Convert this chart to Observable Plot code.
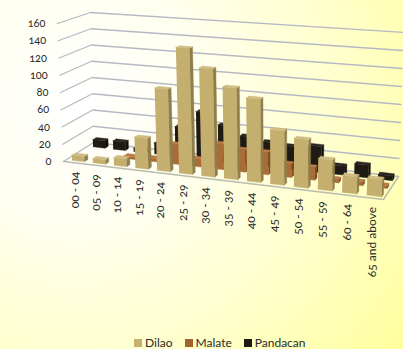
<!DOCTYPE html>
<html>
<head>
<meta charset="utf-8">
<script src="https://cdn.jsdelivr.net/npm/d3@7"></script>
<script src="https://cdn.jsdelivr.net/npm/@observablehq/plot@0.6"></script>
<style>
  html, body { margin: 0; padding: 0; }
  body {
    width: 403px; height: 349px; overflow: hidden; position: relative;
    background: radial-gradient(circle 410px at 75px 100px, #ffffff 0%, #fffff0 30%, #ffffc8 68%, #ffff9e 100%);
    font-family: Lato, "Open Sans", sans-serif; color: #2a2a2a;
  }
  #chart svg { display: block; font-variant-numeric: oldstyle-nums; }
  #legend {
    position: absolute; left: 134px; top: 336px; height: 13px;
    display: flex; align-items: center; font-size: 12px; line-height: 13px;
  }
  #legend span.key { display: inline-block; width: 8px; height: 8px; margin-right: 3px; }
  #legend span.item { display: inline-flex; align-items: center; margin-right: 12px; }
</style>
</head>
<body>
<div id="chart"></div>
<div id="legend"></div>
<script>
// Population by age bracket for three districts of Manila
const ageGroups = ["00 - 04", "05 - 09", "10 - 14", "15 - 19", "20 - 24", "25 - 29", "30 - 34",
  "35 - 39", "40 - 44", "45 - 49", "50 - 54", "55 - 59", "60 - 64", "65 and above"];
const dilao    = [6, 5, 9, 35, 93, 141, 120, 101, 91, 59, 52, 33, 18, 18];
const malate   = [0, 0, 3, 4, 23, 9, 29, 25, 25, 15, 14, 4, 4, 3];
const pandacan = [9, 10, 4, 13, 35, 55, 42, 32, 28, 26, 29, 10, 14, 5];
const yTicks   = [0, 20, 40, 60, 80, 100, 120, 140, 160];
const yMax = 160;

// Shades per series: front face, right face, top face
const series = [
  {name: "Pandacan", values: pandacan, row: 2, legend: "#1f1b14", shades: ["#1f1b14", "#12100b", "#2b2720"]},
  {name: "Malate",   values: malate,   row: 1, legend: "#a0622f", shades: ["#ab6b36", "#7e4c22", "#b97c46"]},
  {name: "Dilao",    values: dilao,    row: 0, legend: "#c4b070", shades: ["#c5af6e", "#8f7e4a", "#cfbc80"]}
];

// Camera: corners of the floor and of the ceiling of the chart box,
// ordered front-left, front-right, back-right, back-left.
const floorQuad = [[63, 161], [383, 199], [398, 176], [93, 142]];
const topQuad   = [[57, 23], [389, 46], [403, 32], [90, 12]];

// Perspective map of the unit square on a quadrilateral
function squareToQuad(q) {
  const [[x0, y0], [x1, y1], [x2, y2], [x3, y3]] = q;
  const dx1 = x1 - x2, dx2 = x3 - x2, sx = x0 - x1 + x2 - x3;
  const dy1 = y1 - y2, dy2 = y3 - y2, sy = y0 - y1 + y2 - y3;
  const det = dx1 * dy2 - dx2 * dy1;
  const g = (sx * dy2 - dx2 * sy) / det;
  const h = (dx1 * sy - sx * dy1) / det;
  const a = x1 - x0 + g * x1, b = x3 - x0 + h * x3;
  const d = y1 - y0 + g * y1, e = y3 - y0 + h * y3;
  return (u, v) => {
    const w = g * u + h * v + 1;
    return [(a * u + b * v + x0) / w, (d * u + e * v + y0) / w];
  };
}
const onFloor = squareToQuad(floorQuad);
const onTop = squareToQuad(topQuad);

// u runs along the age groups, v into the depth of the box, value up the wall
function project(u, v, value) {
  const [fx, fy] = onFloor(u, v);
  const [tx, ty] = onTop(u, v);
  const t = value / yMax;
  return {x: fx + (tx - fx) * t, y: fy + (ty - fy) * t};
}

const n = ageGroups.length;
const barWidth = 0.6 / n;
const barDepth = 0.11;
const barShift = 0.005;
const rowStart = [0.095, 0.445, 0.795];

function polygon(id, corners) {
  return corners.map(([u, v, value]) => ({id, ...project(u, v, value)}));
}

function faces(s) {
  const front = [], side = [], top = [];
  s.values.forEach((value, i) => {
    if (value === 0) return;
    const u0 = (i + 0.5) / n - barWidth / 2 + barShift, u1 = u0 + barWidth;
    const v0 = rowStart[s.row], v1 = v0 + barDepth;
    front.push(...polygon(`f${i}`, [[u0, v0, 0], [u1, v0, 0], [u1, v0, value], [u0, v0, value]]));
    side.push(...polygon(`s${i}`, [[u1, v0, 0], [u1, v1, 0], [u1, v1, value], [u1, v0, value]]));
    top.push(...polygon(`t${i}`, [[u0, v0, value], [u1, v0, value], [u1, v1, value], [u0, v1, value]]));
  });
  return [front, side, top];
}

const gridWall = yTicks.flatMap(t => [
  {id: `l${t}`, ...project(0, 0, t)},
  {id: `l${t}`, ...project(0, 1, t)},
  {id: `l${t}`, ...project(1, 1, t)}
]);
const floorEdge = [
  {...project(0, 0, 0)}, {...project(1, 0, 0)}, {...project(1, 1, 0)}
];

const barMarks = series.flatMap(s =>
  faces(s).map((verts, k) =>
    Plot.line(verts, {x: "x", y: "y", z: "id", fill: s.shades[k], stroke: s.shades[k], strokeWidth: 0.4})
  )
);

const yLabels = yTicks.map(t => ({label: String(t), ...project(0, 0, t)}));
const xLabels = ageGroups.map((label, i) => ({label, ...project((i + 0.5) / n, 0, 0)}));

const chart = Plot.plot({
  width: 403,
  height: 335,
  margin: 0,
  style: {background: "transparent", fontFamily: "Lato, 'Open Sans', sans-serif"},
  x: {domain: [0, 403], range: [0, 403], axis: null},
  y: {domain: [0, 335], range: [0, 335], axis: null},
  marks: [
    Plot.line(gridWall, {x: "x", y: "y", z: "id", stroke: "#b6b9c4", strokeWidth: 1.3}),
    Plot.line(floorEdge, {x: "x", y: "y", stroke: "#b9bcae", strokeWidth: 1.5}),
    ...barMarks,
    Plot.text(yLabels, {x: "x", y: "y", text: "label", textAnchor: "end", dx: -12, fontSize: 11, fill: "#2a2a2a"}),
    Plot.text(xLabels, {x: "x", y: "y", text: "label", rotate: -90, textAnchor: "end", dy: 9, dx: 1, fontSize: 12, fill: "#2a2a2a"})
  ]
});
document.getElementById("chart").appendChild(chart);

// Legend row under the chart
const legend = document.getElementById("legend");
[...series].reverse().forEach(s => {
  const item = document.createElement("span");
  item.className = "item";
  const key = document.createElement("span");
  key.className = "key";
  key.style.background = s.legend;
  item.append(key, s.name);
  legend.append(item);
});
</script>
</body>
</html>
